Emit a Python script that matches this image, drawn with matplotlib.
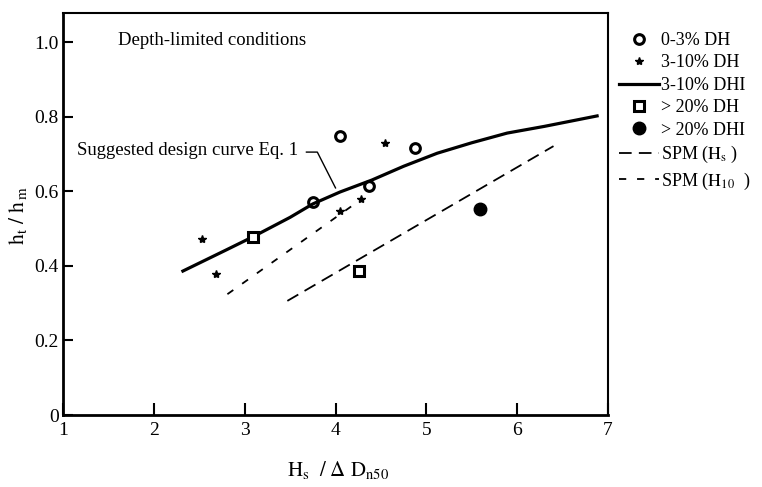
import matplotlib
matplotlib.use('Agg')
import matplotlib.pyplot as plt
import numpy as np

plt.rcParams['font.family'] = ['Liberation Serif', 'DejaVu Serif']
plt.rcParams['mathtext.fontset'] = 'stix'

# 0-3% DH (open circles)
dh03_x = [3.75, 4.05, 4.37, 4.88]
dh03_y = [0.571, 0.748, 0.614, 0.716]

# 3-10% DH (stars)
dh310_x = [2.53, 2.68, 4.05, 4.28, 4.54]
dh310_y = [0.472, 0.378, 0.547, 0.579, 0.729]

# 3-10% DHI, suggested design curve Eq. 1
curve_x = [2.32, 2.8, 3.1, 3.5, 3.75, 4.05, 4.4, 4.75, 5.12, 5.5, 5.89, 6.3, 6.88]
curve_y = [0.386, 0.443, 0.479, 0.530, 0.566, 0.598, 0.630, 0.667, 0.702, 0.730, 0.756, 0.774, 0.802]

# > 20% DH (open squares)
dh20_x = [3.09, 4.26]
dh20_y = [0.477, 0.386]

# > 20% DHI (filled circle)
dhi20_x = [5.59]
dhi20_y = [0.552]

# SPM lines
spm_hs_x = [3.47, 6.40]
spm_hs_y = [0.306, 0.721]
spm_h10_x = [2.81, 4.27]
spm_h10_y = [0.324, 0.576]

xticks = [1, 2, 3, 4, 5, 6, 7]
yticks = [0, 0.2, 0.4, 0.6, 0.8, 1.0]
ytick_labels = ['0', '0.2', '0.4', '0.6', '0.8', '1.0']

fig = plt.figure(figsize=(7.62, 4.87), dpi=100)
ax = fig.add_axes([63 / 762, 1 - 415 / 487, 545 / 762, 402 / 487])

l_circ, = ax.plot(dh03_x, dh03_y, 'o', ls='none', ms=7, mfc='white', mec='black', mew=2.2,
                  label='0-3% DH')
l_star, = ax.plot(dh310_x, dh310_y, '*', ls='none', ms=6, color='black', label='3-10% DH')
l_curve, = ax.plot(curve_x, curve_y, '-', color='black', lw=2.3, label='3-10% DHI')
l_sq, = ax.plot(dh20_x, dh20_y, 's', ls='none', ms=7, mfc='white', mec='black', mew=2.2,
                label='> 20% DH')
l_fill, = ax.plot(dhi20_x, dhi20_y, 'o', ls='none', ms=9, color='black', label='> 20% DHI')
l_hs, = ax.plot(spm_hs_x, spm_hs_y, color='black', lw=1.3, dashes=(7, 4),
                label=r'SPM ($\mathrm{H_s}$ )')
l_h10, = ax.plot(spm_h10_x, spm_h10_y, color='black', lw=1.3, dashes=(4, 6),
                 label=r'SPM ($\mathrm{H_{10}}$  )')

ax.text(1.6, 1.005, 'Depth-limited conditions', fontsize=13.5, va='center', ha='left')
ax.text(1.15, 0.71, 'Suggested design curve Eq. 1', fontsize=13.5, va='center', ha='left')
ax.plot([3.68, 3.8, 4.0], [0.705, 0.705, 0.609], color='black', lw=1)

ax.set_xlim(1, 7)
ax.set_ylim(0, 1.078)
ax.set_xticks(xticks)
ax.set_yticks(yticks)
ax.set_yticklabels(ytick_labels)
ax.tick_params(axis='x', direction='in', length=9, width=1.5, labelsize=14, pad=5)
ax.tick_params(axis='y', direction='in', length=7, width=1.5, labelsize=14, pad=3)
for s in ax.spines.values():
    s.set_color('black')
ax.spines['left'].set_linewidth(2)
ax.spines['bottom'].set_linewidth(2)
ax.spines['top'].set_linewidth(1.5)
ax.spines['right'].set_linewidth(1.5)

fig.text(338 / 762, 1 - 470 / 487, r'$\mathrm{H_s\ \ /\ \Delta\ D_{n50}}$', fontsize=15,
         ha='center', va='center')
fig.text(18 / 762, 1 - 215 / 487, r'$\mathrm{h_t\ /\ h_{\,m}}$', fontsize=15.5,
         ha='center', va='center', rotation=90)

handles = [l_circ, l_star, l_curve, l_sq, l_fill, l_hs, l_h10]
fig.legend(handles=handles, loc='upper left', bbox_to_anchor=(619 / 762, 1 - 32 / 487),
           frameon=False, fontsize=13, handlelength=2.2, handletextpad=0.15,
           labelspacing=0.3, borderpad=0, borderaxespad=0)

fig.savefig('out.png', dpi=100)
